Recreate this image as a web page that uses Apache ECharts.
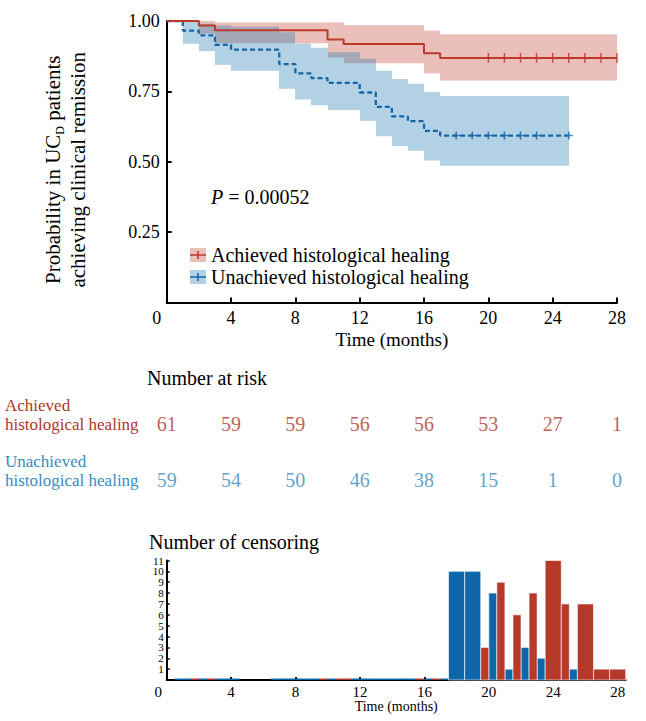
<!DOCTYPE html>
<html><head><meta charset="utf-8">
<script src="https://cdn.jsdelivr.net/npm/echarts@6/dist/echarts.min.js"></script>
<style>html,body{margin:0;padding:0;background:#fff}#c{width:646px;height:721px}</style>
</head><body><div id="c"></div>
<script>
// ---------- data ----------
const groups = ['Achieved histological healing', 'Unachieved histological healing'];
const rowLabels = ['Achieved\nhistological healing', 'Unachieved\nhistological healing'];

const kmTimeA = [0, 2, 3, 10, 11, 16, 17, 28];
const kmSurvA = [1, 0.984, 0.967, 0.934, 0.918, 0.885, 0.869, 0.869];
const kmLowA  = [1, 0.955, 0.921, 0.870, 0.850, 0.814, 0.789, 0.789];
const kmUpA   = [1, 1.000, 0.995, 0.995, 0.985, 0.966, 0.953, 0.953];

const kmTimeB = [0, 1, 2, 3, 4, 7, 8, 9, 10, 12, 13, 14, 15, 16, 17, 25];
const kmSurvB = [1, 0.966, 0.949, 0.915, 0.898, 0.847, 0.814, 0.797, 0.780, 0.746, 0.695, 0.661, 0.644, 0.610, 0.593, 0.593];
const kmLowB  = [1, 0.919, 0.893, 0.844, 0.823, 0.759, 0.721, 0.701, 0.684, 0.645, 0.591, 0.556, 0.539, 0.504, 0.486, 0.486];
const kmUpB   = [1, 0.997, 0.990, 0.984, 0.980, 0.960, 0.920, 0.905, 0.889, 0.866, 0.823, 0.794, 0.777, 0.748, 0.734, 0.734];

const censorMarkA = [20, 21, 22, 23, 24, 25, 26, 27, 28];
const censorMarkB = [18, 19, 20, 21, 22, 23, 25];

const riskTimes = [0, 4, 8, 12, 16, 20, 24, 28];
const riskA = [61, 59, 59, 56, 56, 53, 27, 1];
const riskB = [59, 54, 50, 46, 38, 15, 1, 0];

const censorTimes = [1, 2, 3, 4, 7, 8, 9, 10, 11, 12, 13, 14, 15, 16, 17, 18, 19, 20, 21, 22, 23, 24, 25, 26, 27, 28];
const censorA = [null, 0, 0, null, null, null, null, 0, 0, null, null, null, null, 0, 0, null, null, 3, 9, 6, 8, 11, 7, 7, 1, 1];
const censorB = [0, 0, 0, 0, 0, 0, 0, 0, null, 0, 0, 0, 0, 0, 0, 10, 10, 8, 1, 3, 2, null, 1, null, null, null];

const xTicks = [0, 4, 8, 12, 16, 20, 24, 28];
const pValue = '0.00052';

// ---------- styles ----------
const FONT = 'Liberation Serif';
const RED = '#BB3A2B', BLUE = '#1565A8';
const RED_BAND = 'rgba(190,60,45,0.33)', BLUE_BAND = 'rgba(30,120,180,0.34)';
const RED_TXT = '#AE3628', BLUE_TXT = '#3A8AC0';
const BAR_RED = '#B53A2A', BAR_BLUE = '#0F67AB';

function pairs(t, v) { return t.map((x, i) => [x, v[i]]); }
function intervals(t, lo, up) {
  const out = [];
  for (let i = 0; i < t.length - 1; i++) out.push([t[i], t[i + 1], lo[i], up[i]]);
  return out;
}
function survAt(times, surv, x) { let s = surv[0]; times.forEach((t, i) => { if (t <= x) s = surv[i]; }); return s; }

function bandRender(color) {
  return function (params, api) {
    const p0 = api.coord([api.value(0), api.value(3)]);
    const p1 = api.coord([api.value(1), api.value(2)]);
    const x0 = Math.round(p0[0]), x1 = Math.round(p1[0]);
    return { type: 'rect', shape: { x: x0, y: p0[1], width: x1 - x0, height: p1[1] - p0[1] },
      style: { fill: color } };
  };
}

function barData(vals, other, isA) {
  const out = [];
  censorTimes.forEach((t, i) => {
    const v = vals[i]; if (v === null) return;
    const shared = other[i] !== null;
    const a = shared ? (isA ? -0.5 : 0) : -0.5;
    const b = shared ? (isA ? 0 : 0.5) : 0.5;
    out.push([t, v, a, b]);
  });
  return out;
}
function barRender(color) {
  return function (params, api) {
    const t = api.value(0), v = api.value(1), a = api.value(2), b = api.value(3);
    const p0 = api.coord([t + a, v]);
    const p1 = api.coord([t + b, 0]);
    let y = p0[1], h = p1[1] - p0[1];
    if (h < 1.5) { h = 1.5; y = p1[1] - 1.5; }
    return { type: 'rect', shape: { x: p0[0], y: y, width: p1[0] - p0[0], height: h },
      style: { fill: color, stroke: v > 0 ? 'rgba(255,255,255,0.6)' : null, lineWidth: v > 0 ? 1 : 0 } };
  };
}

const tickRed = 'path://M0,0 H1.5 V10 H0 Z';
const plusBlue = 'path://M3.2,0 H4.8 V8 H3.2 Z M0,3.2 H8 V4.8 H0 Z';
const legendLine = 'path://M0,3.3 H16 V4.7 H0 Z M7.2,0 H8.8 V8 H7.2 Z';

const option = {
  animation: false,
  backgroundColor: '#fff',
  textStyle: { fontFamily: FONT, color: '#000' },
  title: [
    { text: '{i|P} = ' + pValue, left: 206, top: 182,
      textStyle: { fontFamily: FONT, fontSize: 20, fontWeight: 'normal', color: '#000',
        rich: { i: { fontFamily: FONT, fontSize: 20, fontStyle: 'italic', color: '#000' } } } },
    { text: 'Number at risk', left: 142, top: 363,
      textStyle: { fontFamily: FONT, fontSize: 20, fontWeight: 'normal', color: '#000' } },
    { text: 'Number of censoring', left: 144, top: 527,
      textStyle: { fontFamily: FONT, fontSize: 20, fontWeight: 'normal', color: '#000' } }
  ],
  legend: [
    { data: [{ name: 'bandA', itemStyle: { color: RED_BAND, borderWidth: 0 } },
             { name: 'bandB', itemStyle: { color: BLUE_BAND, borderWidth: 0 } }],
      orient: 'vertical', left: 185, top: 239, itemWidth: 16, itemHeight: 14, itemGap: 0,
      icon: 'rect', formatter: () => ' ', selectedMode: false,
      itemStyle: { borderWidth: 0 },
      textStyle: { fontFamily: FONT, fontSize: 20, lineHeight: 22, color: '#000' } },
    { data: [{ name: groups[0], icon: legendLine, itemStyle: { color: RED, borderWidth: 0 } },
             { name: groups[1], icon: legendLine, itemStyle: { color: BLUE, borderWidth: 0 } }],
      orient: 'vertical', left: 185, top: 239, itemWidth: 16, itemHeight: 8, itemGap: 0,
      selectedMode: false, itemStyle: { borderWidth: 0 }, lineStyle: { width: 0 },
      textStyle: { fontFamily: FONT, fontSize: 20, lineHeight: 22, color: '#000' } }
  ],
  grid: [
    { left: 166.7, right: 29, top: 21, bottom: 418.5 },
    { left: 166.7, right: 29, top: 396, height: 112 },
    { left: 166.7, right: 20.3, top: 560.5, bottom: 41 }
  ],
  xAxis: [
    { gridIndex: 0, type: 'value', min: 0, max: 28, interval: 4,
      name: 'Time (months)', nameLocation: 'middle', nameGap: 27,
      nameTextStyle: { fontFamily: FONT, fontSize: 19, color: '#000' },
      axisLine: { lineStyle: { color: '#000', width: 2 } },
      axisTick: { inside: true, length: 5, lineStyle: { color: '#000', width: 2 } },
      axisLabel: { fontFamily: FONT, fontSize: 18, color: '#000', margin: 6,
        formatter: v => v === 0 ? '{z|0}' : String(v),
        rich: { z: { fontFamily: FONT, fontSize: 18, color: '#000', padding: [0, 20, 0, 0] } } },
      splitLine: { show: false } },
    { gridIndex: 1, type: 'value', min: 0, max: 28, show: false },
    { gridIndex: 2, type: 'value', min: 0, max: 28.5, interval: 4,
      name: 'Time (months)', nameLocation: 'middle', nameGap: 19,
      nameTextStyle: { fontFamily: FONT, fontSize: 14, color: '#000' },
      axisLine: { lineStyle: { color: '#000', width: 2 } },
      axisTick: { inside: true, length: 3, customValues: xTicks, lineStyle: { color: '#000', width: 2 } },
      axisLabel: { fontFamily: FONT, fontSize: 15, color: '#000', margin: 4, customValues: xTicks,
        formatter: v => v === 0 ? '{z|0}' : String(v),
        rich: { z: { fontFamily: FONT, fontSize: 15, color: '#000', padding: [0, 17, 0, 0] } } },
      splitLine: { show: false } }
  ],
  yAxis: [
    { gridIndex: 0, type: 'value', min: 0, max: 1, interval: 0.25,
      name: 'Probability in UC{sub|D} patients\nachieving clinical remission',
      nameLocation: 'middle', nameGap: 76, nameRotate: 90,
      nameTextStyle: { fontFamily: FONT, fontSize: 21, lineHeight: 25, color: '#000', padding: [0, 16, 0, 0],
        rich: { sub: { fontFamily: FONT, fontSize: 12, color: '#000', verticalAlign: 'bottom', padding: [10, 0, 0, 0] } } },
      axisLine: { show: true, lineStyle: { color: '#000', width: 2 } },
      axisTick: { show: true, inside: true, length: 5, lineStyle: { color: '#000', width: 2 } },
      axisLabel: { fontFamily: FONT, fontSize: 18, color: '#000', margin: 7,
        formatter: v => v === 0 ? '' : v.toFixed(2) },
      splitLine: { show: false } },
    { gridIndex: 1, type: 'category', data: rowLabels, inverse: true,
      axisLine: { show: false }, axisTick: { show: false }, splitLine: { show: false },
      axisLabel: { interval: 0, align: 'left', margin: 161.7, fontFamily: FONT, fontSize: 17, lineHeight: 19,
        formatter: v => v + '\n ', color: (v, i) => (i === 0 ? RED_TXT : BLUE_TXT) } },
    { gridIndex: 2, type: 'value', min: 0, max: 11, interval: 1,
      axisLine: { show: true, lineStyle: { color: '#000', width: 2 } },
      axisTick: { show: true, inside: true, length: 3, lineStyle: { color: '#000', width: 1.5 } },
      axisLabel: { fontFamily: FONT, fontSize: 11, lineHeight: 10, color: '#000', margin: 3,
        showMaxLabel: true, showMinLabel: false, hideOverlap: false,
        formatter: v => v === 0 ? '' : String(v) },
      splitLine: { show: false } }
  ],
  series: [
    // confidence bands
    { name: 'bandA', type: 'custom', xAxisIndex: 0, yAxisIndex: 0, silent: true,
      data: intervals(kmTimeA, kmLowA, kmUpA), renderItem: bandRender(RED_BAND),
      encode: { x: [0, 1], y: [2, 3] }, itemStyle: { color: RED_BAND } },
    { name: 'bandB', type: 'custom', xAxisIndex: 0, yAxisIndex: 0, silent: true,
      data: intervals(kmTimeB, kmLowB, kmUpB), renderItem: bandRender(BLUE_BAND),
      encode: { x: [0, 1], y: [2, 3] }, itemStyle: { color: BLUE_BAND } },
    // KM curves
    { name: groups[1], type: 'line', xAxisIndex: 0, yAxisIndex: 0, step: 'end',
      data: pairs(kmTimeB, kmSurvB), symbol: 'none', color: BLUE, itemStyle: { color: BLUE },
      lineStyle: { color: BLUE, width: 2.3, type: [5, 3] } },
    { name: groups[0], type: 'line', xAxisIndex: 0, yAxisIndex: 0, step: 'end',
      data: pairs(kmTimeA, kmSurvA), symbol: 'none', color: RED, itemStyle: { color: RED },
      lineStyle: { color: RED, width: 2 } },
    // censor marks
    { name: 'censA', type: 'scatter', xAxisIndex: 0, yAxisIndex: 0, symbol: tickRed, symbolSize: [1.5, 10],
      data: censorMarkA.map(t => [t, survAt(kmTimeA, kmSurvA, t)]), itemStyle: { color: RED }, silent: true },
    { name: 'censB', type: 'scatter', xAxisIndex: 0, yAxisIndex: 0, symbol: plusBlue, symbolSize: [8, 8],
      data: censorMarkB.map(t => [t, survAt(kmTimeB, kmSurvB, t)]), itemStyle: { color: BLUE }, silent: true },
    // number at risk
    { name: 'riskA', type: 'scatter', xAxisIndex: 1, yAxisIndex: 1, symbolSize: 1,
      itemStyle: { color: 'rgba(0,0,0,0)' },
      data: riskTimes.map((t, i) => [t, 0, riskA[i]]), silent: true,
      label: { show: true, position: 'inside', formatter: p => String(p.value[2]),
        fontFamily: FONT, fontSize: 20, color: RED_TXT } },
    { name: 'riskB', type: 'scatter', xAxisIndex: 1, yAxisIndex: 1, symbolSize: 1,
      itemStyle: { color: 'rgba(0,0,0,0)' },
      data: riskTimes.map((t, i) => [t, 1, riskB[i]]), silent: true,
      label: { show: true, position: 'inside', formatter: p => String(p.value[2]),
        fontFamily: FONT, fontSize: 20, color: BLUE_TXT } },
    // number of censoring
    { name: 'censorBarsB', type: 'custom', xAxisIndex: 2, yAxisIndex: 2,
      data: barData(censorB, censorA, false), renderItem: barRender(BAR_BLUE),
      encode: { x: 0, y: 1 }, silent: true },
    { name: 'censorBarsA', type: 'custom', xAxisIndex: 2, yAxisIndex: 2,
      data: barData(censorA, censorB, true), renderItem: barRender(BAR_RED),
      encode: { x: 0, y: 1 }, silent: true }
  ]
};
const chart = echarts.init(document.getElementById('c'), null, { renderer: 'svg' });
chart.setOption(option);
</script>
</body></html>
